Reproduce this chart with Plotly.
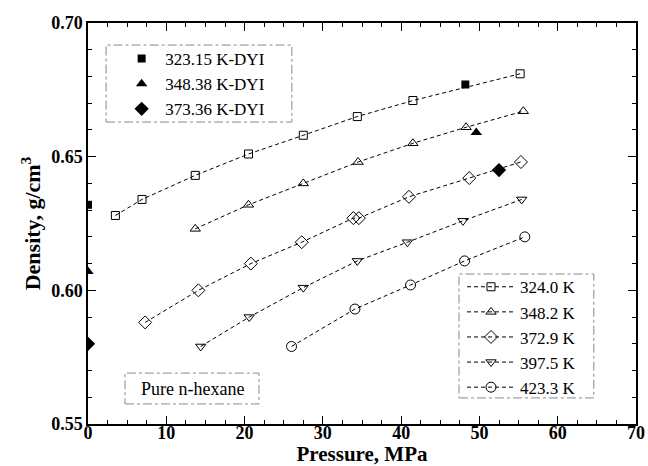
import plotly.graph_objects as go

# ---- data ----
p_324 = [3.5, 6.9, 13.7, 20.5, 27.5, 34.4, 41.5, 55.2]
d_324 = [0.628, 0.634, 0.643, 0.651, 0.658, 0.665, 0.671, 0.681]

p_348 = [13.7, 20.5, 27.5, 34.5, 41.5, 48.3, 55.6]
d_348 = [0.623, 0.632, 0.640, 0.648, 0.655, 0.661, 0.667]

p_373 = [7.3, 14.1, 20.8, 27.3, 33.9, 34.6, 41.0, 48.7, 55.3]
d_373 = [0.588, 0.600, 0.610, 0.618, 0.627, 0.627, 0.635, 0.642, 0.648]

p_398 = [14.4, 20.6, 27.5, 34.4, 40.8, 47.9, 55.4]
d_398 = [0.579, 0.590, 0.601, 0.611, 0.618, 0.626, 0.634]

p_423 = [26.0, 34.1, 41.2, 48.1, 55.8]
d_423 = [0.579, 0.593, 0.602, 0.611, 0.620]

p_dyi_323 = [0.0, 48.2]
d_dyi_323 = [0.632, 0.677]
p_dyi_348 = [0.0, 49.6]
d_dyi_348 = [0.607, 0.659]
p_dyi_373 = [0.0, 52.5]
d_dyi_373 = [0.580, 0.645]

x_tickvals = [0, 10, 20, 30, 40, 50, 60, 70]
x_ticktext = ["0", "10", "20", "30", "40", "50", "60", "70"]
y_tickvals = [0.55, 0.60, 0.65, 0.70]
y_ticktext = ["0.55", "0.60", "0.65", "0.70"]

line_series = [
    ("324.0 K", p_324, d_324, "square-open", 8),
    ("348.2 K", p_348, d_348, "triangle-up-open", 9),
    ("372.9 K", p_373, d_373, "diamond-open", 10),
    ("397.5 K", p_398, d_398, "triangle-down-open", 9),
    ("423.3 K", p_423, d_423, "circle-open", 10),
]
dyi_series = [
    ("323.15 K-DYI", p_dyi_323, d_dyi_323, "square", 8),
    ("348.38 K-DYI", p_dyi_348, d_dyi_348, "triangle-up", 10),
    ("373.36 K-DYI", p_dyi_373, d_dyi_373, "diamond", 11),
]

FONT = "Liberation Serif"
fig = go.Figure()

for name, x, y, sym, sz in line_series:
    fig.add_trace(go.Scatter(
        x=x, y=y, name=name, mode="lines+markers", legend="legend2",
        line=dict(color="black", width=1, dash="4px,3px"),
        marker=dict(symbol=sym, size=sz, color="black", line=dict(width=1, color="black")),
    ))

for name, x, y, sym, sz in dyi_series:
    fig.add_trace(go.Scatter(
        x=x, y=y, name=name, mode="markers", legend="legend", cliponaxis=True,
        marker=dict(symbol=sym, size=sz, color="black"),
    ))

box_line = dict(color="#888888", width=1, dash="dashdot")
fig.add_shape(type="rect", xref="paper", yref="paper", x0=0.033, x1=0.372, y0=0.753, y1=0.945, line=box_line)
fig.add_shape(type="rect", xref="paper", yref="paper", x0=0.677, x1=0.923, y0=0.065, y1=0.374, line=box_line)
fig.add_shape(type="rect", xref="paper", yref="paper", x0=0.0675, x1=0.312, y0=0.05, y1=0.127, line=box_line)

fig.add_annotation(text="Pure n-hexane", xref="paper", yref="paper", x=0.19, y=0.0885,
                   showarrow=False, font=dict(family=FONT, size=18, color="black"),
                   xanchor="center", yanchor="middle")

axis_common = dict(
    showline=True, linecolor="black", linewidth=1.5, mirror="ticks",
    ticks="inside", ticklen=8, tickwidth=1, tickcolor="black",
    showgrid=False, zeroline=False, automargin=False,
    tickfont=dict(family=FONT, size=18, color="black"),
)

fig.update_layout(
    width=648, height=466,
    margin=dict(l=88, r=12, t=23, b=42),
    paper_bgcolor="white", plot_bgcolor="white",
    font=dict(family=FONT, color="black"),
    xaxis=dict(range=[0, 70], tickmode="array", tickvals=x_tickvals,
               ticktext=["<b>%s</b>" % t for t in x_ticktext], ticklabelstandoff=-8,
               minor=dict(dtick=2.5, tick0=0, ticks="inside", ticklen=4, tickcolor="black"),
               title=dict(text="<b>Pressure, MPa</b>", font=dict(family=FONT, size=21), standoff=0),
               **axis_common),
    yaxis=dict(range=[0.55, 0.70], tickmode="array", tickvals=y_tickvals,
               ticktext=["<b>%s</b>" % t for t in y_ticktext],
               minor=dict(dtick=0.01, tick0=0.55, ticks="inside", ticklen=4, tickcolor="black"),
               title=dict(text="<b>Density, g/cm<sup>3</sup></b>", font=dict(family=FONT, size=22), standoff=4),
               **axis_common),
    legend=dict(x=0.055, y=0.955, xanchor="left", yanchor="top", bgcolor="rgba(0,0,0,0)",
                borderwidth=0, font=dict(family=FONT, size=17, color="black"),
                tracegroupgap=0, itemwidth=37),
    legend2=dict(x=0.6825, y=0.386, xanchor="left", yanchor="top", bgcolor="rgba(0,0,0,0)",
                 borderwidth=0, font=dict(family=FONT, size=17, color="black"),
                 tracegroupgap=0, itemwidth=48),
)

fig.write_html("out.html")
